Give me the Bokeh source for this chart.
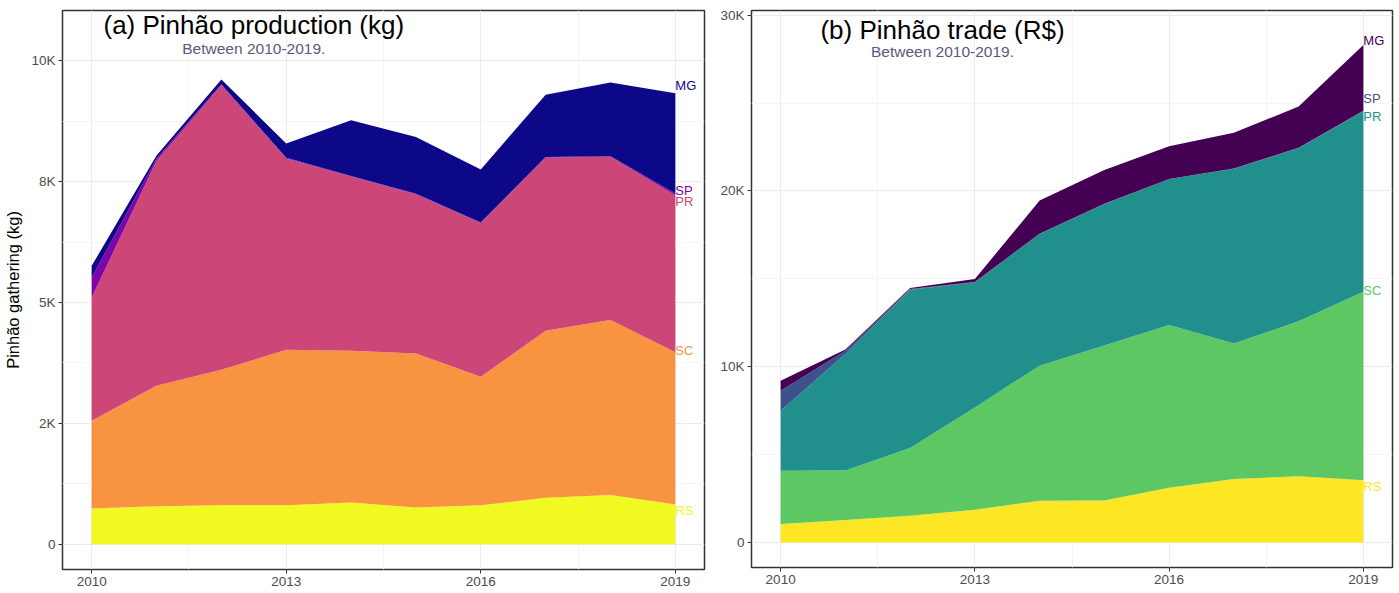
import numpy as np
from bokeh.plotting import figure
from bokeh.layouts import row
from bokeh.models import ColumnDataSource, Range1d, FixedTicker, Label
from bokeh.embed import file_html
from bokeh.resources import INLINE
from bokeh.core.properties import value

# ---- data -----------------------------------------------------------------
years = [2010, 2011, 2012, 2013, 2014, 2015, 2016, 2017, 2018, 2019]
states = ["RS", "SC", "PR", "SP", "MG"]  # stacking order, bottom to top

# (a) pinhão production, kg
prod_rs = [739, 786, 807, 807, 863, 759, 805, 960, 1016, 821]
prod_sc = [1814, 2491, 2801, 3215, 3138, 3187, 2659, 3458, 3621, 3152]
prod_pr = [2551, 4656, 5889, 3959, 3607, 3296, 3184, 3583, 3379, 3246]
prod_sp = [412, 50, 20, 15, 10, 10, 10, 10, 10, 37]
prod_mg = [244, 60, 100, 296, 1152, 1173, 1095, 1291, 1527, 2076]

# (b) pinhão trade, R$
trade_rs = [1047, 1275, 1520, 1861, 2373, 2385, 3113, 3608, 3762, 3546]
trade_sc = [3034, 2815, 3853, 5823, 7684, 8822, 9255, 7707, 8822, 10717]
trade_pr = [3415, 6633, 8999, 7114, 7496, 8047, 8304, 9943, 9858, 10262]
trade_sp = [1138, 188, 50, 20, 10, 10, 10, 10, 10, 40]
trade_mg = [569, 60, 60, 173, 1885, 1926, 1862, 2033, 2352, 3728]

x_ticks = [2010, 2013, 2016, 2019]
prod_y_ticks = [0, 2500, 5000, 7500, 10000]
prod_y_labels = ["0", "2K", "5K", "8K", "10K"]
trade_y_ticks = [0, 10000, 20000, 30000]
trade_y_labels = ["0", "10K", "20K", "30K"]

plasma5 = ["#F0F921", "#F89441", "#CC4678", "#7E03A8", "#0D0887"]
viridis5 = ["#FDE725", "#5DC863", "#21908C", "#3B528B", "#440154"]

FONT = "Liberation Sans"


def make_panel(series, colors, y_lo, y_hi, y_ticks, y_labels, title, subtitle,
               title_px, subtitle_px, label_dy, y_axis_label,
               frame_w, frame_h, b_left, b_right, b_top, b_bottom):
    p = figure(
        frame_width=frame_w, frame_height=frame_h,
        min_border_left=b_left, min_border_right=b_right,
        min_border_top=b_top, min_border_bottom=b_bottom,
        x_range=Range1d(2009.55, 2019.45), y_range=Range1d(y_lo, y_hi),
        output_backend="svg", toolbar_location=None,
    )
    p.background_fill_color = "white"
    p.border_fill_color = "white"
    p.outline_line_color = "#333333"
    p.outline_line_width = 1.5

    data = {"year": years}
    for s, vals in zip(states, series):
        data[s] = vals
    src = ColumnDataSource(data)
    p.varea_stack(stackers=states, x="year", color=colors, source=src)

    # state labels at the right end of each band
    tops = np.cumsum(np.array([v[-1] for v in series]))
    lab = ColumnDataSource(dict(x=[years[-1]] * len(states), y=list(tops),
                                text=states, color=colors, dy=label_dy))
    p.text(x="x", y="y", text="text", text_color="color", y_offset="dy", x_offset=0,
           text_font=value(FONT), text_font_size="13px",
           text_align="left", text_baseline="middle", source=lab)

    # grid
    minor_x = [(a + b) / 2 for a, b in zip(x_ticks[:-1], x_ticks[1:])]
    step = y_ticks[1] - y_ticks[0]
    minor_y = [t + step / 2 for t in y_ticks if t + step / 2 < y_hi]
    p.xaxis.ticker = FixedTicker(ticks=x_ticks, minor_ticks=minor_x)
    p.yaxis.ticker = FixedTicker(ticks=y_ticks, minor_ticks=minor_y)
    p.yaxis.major_label_overrides = {t: l for t, l in zip(y_ticks, y_labels)}
    p.grid.grid_line_color = "#EBEBEB"
    p.grid.grid_line_width = 1
    p.grid.minor_grid_line_color = "#F5F5F5"
    p.grid.minor_grid_line_width = 1

    for ax in (p.xaxis, p.yaxis):
        ax.axis_line_color = None
        ax.major_tick_line_color = "#333333"
        ax.major_tick_out = 4
        ax.major_tick_in = 0
        ax.minor_tick_line_color = None
        ax.major_label_text_font = FONT
        ax.major_label_text_font_size = "13.5px"
        ax.major_label_text_color = "#4D4D4D"
        ax.major_label_standoff = 3

    if y_axis_label:
        p.yaxis.axis_label = y_axis_label
        p.yaxis.axis_label_text_font = FONT
        p.yaxis.axis_label_text_font_size = "16.5px"
        p.yaxis.axis_label_text_font_style = "normal"
        p.yaxis.axis_label_text_color = "black"
        p.yaxis.axis_label_standoff = 6

    # in-panel title and subtitle, anchored in pixels below the frame top
    span = y_hi - y_lo
    p.add_layout(Label(x=2012.5, y=y_hi - span * title_px / frame_h, text=title,
                       text_align="center", text_baseline="alphabetic",
                       text_font=FONT, text_font_size="26px", text_color="black"))
    p.add_layout(Label(x=2012.5, y=y_hi - span * subtitle_px / frame_h, text=subtitle,
                       text_align="center", text_baseline="alphabetic",
                       text_font=FONT, text_font_size="15.5px", text_color="#5A5A7A"))
    return p


p1 = make_panel(
    [prod_rs, prod_sc, prod_pr, prod_sp, prod_mg], plasma5,
    -523, 11043, prod_y_ticks, prod_y_labels,
    "(a) Pinhão production (kg)", "Between 2010-2019.", 14, 37.5,
    [6, -2, 6, -3, -8], "Pinhão gathering (kg)",
    642, 559, 62, 6, 8, 26,
)
p2 = make_panel(
    [trade_rs, trade_sc, trade_pr, trade_sp, trade_mg], viridis5,
    -1423, 30262, trade_y_ticks, trade_y_labels,
    "(b) Pinhão trade (R$)", "Between 2010-2019.", 19.5, 40.5,
    [6, -1, 5, -12, -5], None,
    641, 557, 41, 7, 10, 26,
)

layout = row(p1, p2, spacing=0)
open("out.html", "w").write(file_html(layout, INLINE))
